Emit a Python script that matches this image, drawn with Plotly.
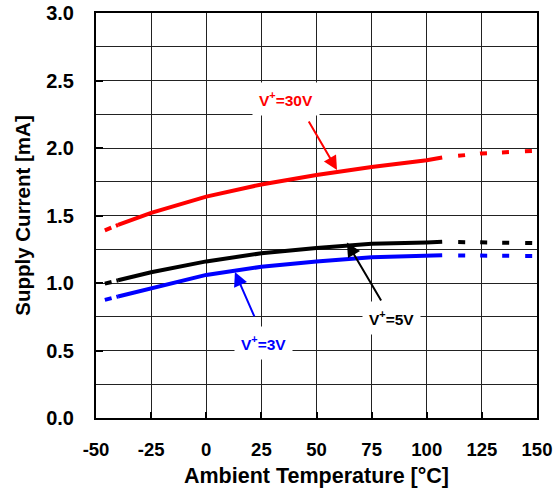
import plotly.graph_objects as go

# Temperature points (°C)
t_lead = [-46, -40]
t_main = [-40, -25, 0, 25, 50, 75, 100, 107]
t_tail = [107, 125, 150]

# Supply current (mA)
v30_lead = [1.39, 1.43]
v30_main = [1.43, 1.52, 1.64, 1.73, 1.80, 1.86, 1.91, 1.93]
v30_tail = [1.93, 1.96, 1.98]

v5_lead = [0.995, 1.02]
v5_main = [1.02, 1.08, 1.16, 1.22, 1.26, 1.29, 1.30, 1.305]
v5_tail = [1.305, 1.30, 1.295]

v3_lead = [0.875, 0.90]
v3_main = [0.90, 0.96, 1.06, 1.12, 1.16, 1.19, 1.20, 1.205]
v3_tail = [1.205, 1.20, 1.20]

# Tick labels
x_ticks = [-50, -25, 0, 25, 50, 75, 100, 125, 150]
x_tick_text = ["-50", "-25", "0", "25", "50", "75", "100", "125", "150"]
y_ticks = [0.0, 0.5, 1.0, 1.5, 2.0, 2.5, 3.0]
y_tick_text = ["0.0", "0.5", "1.0", "1.5", "2.0", "2.5", "3.0"]

series = [
    ("V+=30V", "#ff0000", v30_lead, v30_main, v30_tail),
    ("V+=5V", "#000000", v5_lead, v5_main, v5_tail),
    ("V+=3V", "#0000ff", v3_lead, v3_main, v3_tail),
]

# labels: text, color, text position, arrow tail, arrow head
labels = [
    ("V<sup>+</sup>=30V", "#ff0000", (36.2, 2.363), (46.1, 2.207), (59.3, 1.837)),
    ("V<sup>+</sup>=5V", "#000000", (84.2, 0.741), (79.7, 0.859), (63.8, 1.300)),
    ("V<sup>+</sup>=3V", "#0000ff", (26.0, 0.556), (22.1, 0.741), (13.0, 1.081)),
]

TAIL_DASH = "0px,16px,7px,15px,7px,15px,7px,16px,7px,60px"

fig = go.Figure()
for name, col, lead, main, tail in series:
    fig.add_trace(go.Scatter(x=t_lead, y=lead, mode="lines", hoverinfo="skip",
                             line=dict(color=col, width=4, dash="7px,5px"), showlegend=False))
    fig.add_trace(go.Scatter(x=t_main, y=main, mode="lines", name=name,
                             line=dict(color=col, width=4), showlegend=False))
    fig.add_trace(go.Scatter(x=t_tail, y=tail, mode="lines", hoverinfo="skip",
                             line=dict(color=col, width=4, dash=TAIL_DASH), showlegend=False))

FONT = "Liberation Sans, Arial, sans-serif"
for text, col, tp, tail, head in labels:
    fig.add_annotation(x=head[0], y=head[1], ax=tail[0], ay=tail[1],
                       xref="x", yref="y", axref="x", ayref="y",
                       text="", showarrow=True, arrowhead=2, arrowsize=1.4,
                       arrowwidth=2, arrowcolor=col)
    fig.add_annotation(x=tp[0], y=tp[1], xref="x", yref="y", text=text,
                       showarrow=False, bgcolor="white", borderpad=6,
                       font=dict(family=FONT, size=15.5, color=col, weight="bold"))

fig.update_layout(
    width=560, height=488,
    margin=dict(l=96, r=23, t=13, b=70),
    paper_bgcolor="white", plot_bgcolor="white",
    font=dict(family=FONT, color="black"),
)
fig.update_xaxes(
    range=[-50, 150], tickvals=x_ticks, ticktext=x_tick_text,
    showgrid=True, gridcolor="#222222", gridwidth=1.2,
    showline=True, linecolor="black", linewidth=2, mirror=True,
    ticks="inside", ticklen=6, tickcolor="black", tickwidth=2,
    tickfont=dict(family=FONT, size=18.5, color="black", weight="bold"),
    ticklabelstandoff=14, automargin=False,
    title=dict(text="Ambient Temperature [°C]", standoff=12,
               font=dict(family=FONT, size=21.5, color="black", weight="bold")),
    zeroline=False,
)
fig.update_yaxes(
    range=[0, 3], tickvals=y_ticks, ticktext=y_tick_text,
    showgrid=True, gridcolor="#222222", gridwidth=1.2,
    minor=dict(dtick=0.25, showgrid=True, gridcolor="#222222", gridwidth=1.2),
    showline=True, linecolor="black", linewidth=2, mirror=True,
    ticks="inside", ticklen=7, tickcolor="black", tickwidth=2,
    tickfont=dict(family=FONT, size=20, color="black", weight="bold"),
    ticklabelstandoff=16, automargin=False,
    title=dict(text="Supply Current [mA]", standoff=10,
               font=dict(family=FONT, size=20.5, color="black", weight="bold")),
    zeroline=False,
)

fig.write_html("out.html")
